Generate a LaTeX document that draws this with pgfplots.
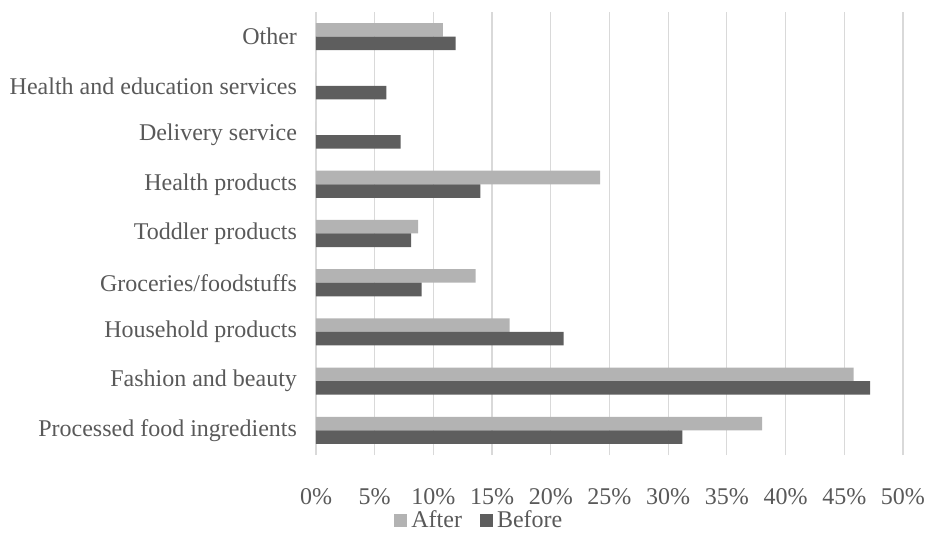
\documentclass[border=0pt]{standalone}
\usepackage{pgfplots}
\pgfplotsset{compat=1.18}
\usepackage{fontspec}
\setmainfont{Liberation Serif}
\definecolor{txt}{HTML}{595959}
\definecolor{after}{HTML}{B3B3B3}
\definecolor{before}{HTML}{5E5E5E}
\definecolor{gridc}{HTML}{D9D9D9}

\begin{document}
\begin{tikzpicture}
\path[use as bounding box] (-158pt,-42.5pt) rectangle (304.5pt,227.5pt);
\begin{axis}[
  at={(0,0)}, anchor=south west,
  scale only axis, width=293.5pt, height=221.5pt,
  xbar, bar width=0.275,
  xmin=0, xmax=50, ymin=-0.5, ymax=8.5,
  xtick={0,5,...,50},
  xticklabel={\pgfmathprintnumber{\tick}\%},
  ytick={0,...,8},
  yticklabels={Processed food ingredients, Fashion and beauty, Household products, Groceries/foodstuffs, Toddler products, Health products, Delivery service, Health and education services, Other},
  xmajorgrids, major grid style={gridc, line width=0.6pt},
  axis line style={draw=none},
  major tick length=0pt,
  tick label style={font=\fontsize{12}{14}\selectfont, text=txt},
  xticklabel style={yshift=-13pt},
  yticklabel style={xshift=-6pt},
  /pgf/number format/assume math mode=true,
  legend style={at={(0.28,-0.147)}, anchor=center, draw=none, fill=none,
    legend columns=2, font=\fontsize{12}{14}\selectfont, text=txt,
    /tikz/every even column/.append style={column sep=7pt}},
  legend image code/.code={\fill[#1] (0pt,-3.25pt) rectangle (6.5pt,3.25pt);},
]
% After
\addplot[fill=after, draw=none, bar shift=0.1375] coordinates {
  (38.0,0) (45.8,1) (16.5,2) (13.6,3) (8.7,4) (24.2,5) (0,6) (0,7) (10.8,8)};
\addlegendentry{After}
% Before
\addplot[fill=before, draw=none, bar shift=-0.1375] coordinates {
  (31.2,0) (47.2,1) (21.1,2) (9.0,3) (8.1,4) (14.0,5) (7.2,6) (6.0,7) (11.9,8)};
\addlegendentry{Before}
\end{axis}
\end{tikzpicture}
\end{document}
